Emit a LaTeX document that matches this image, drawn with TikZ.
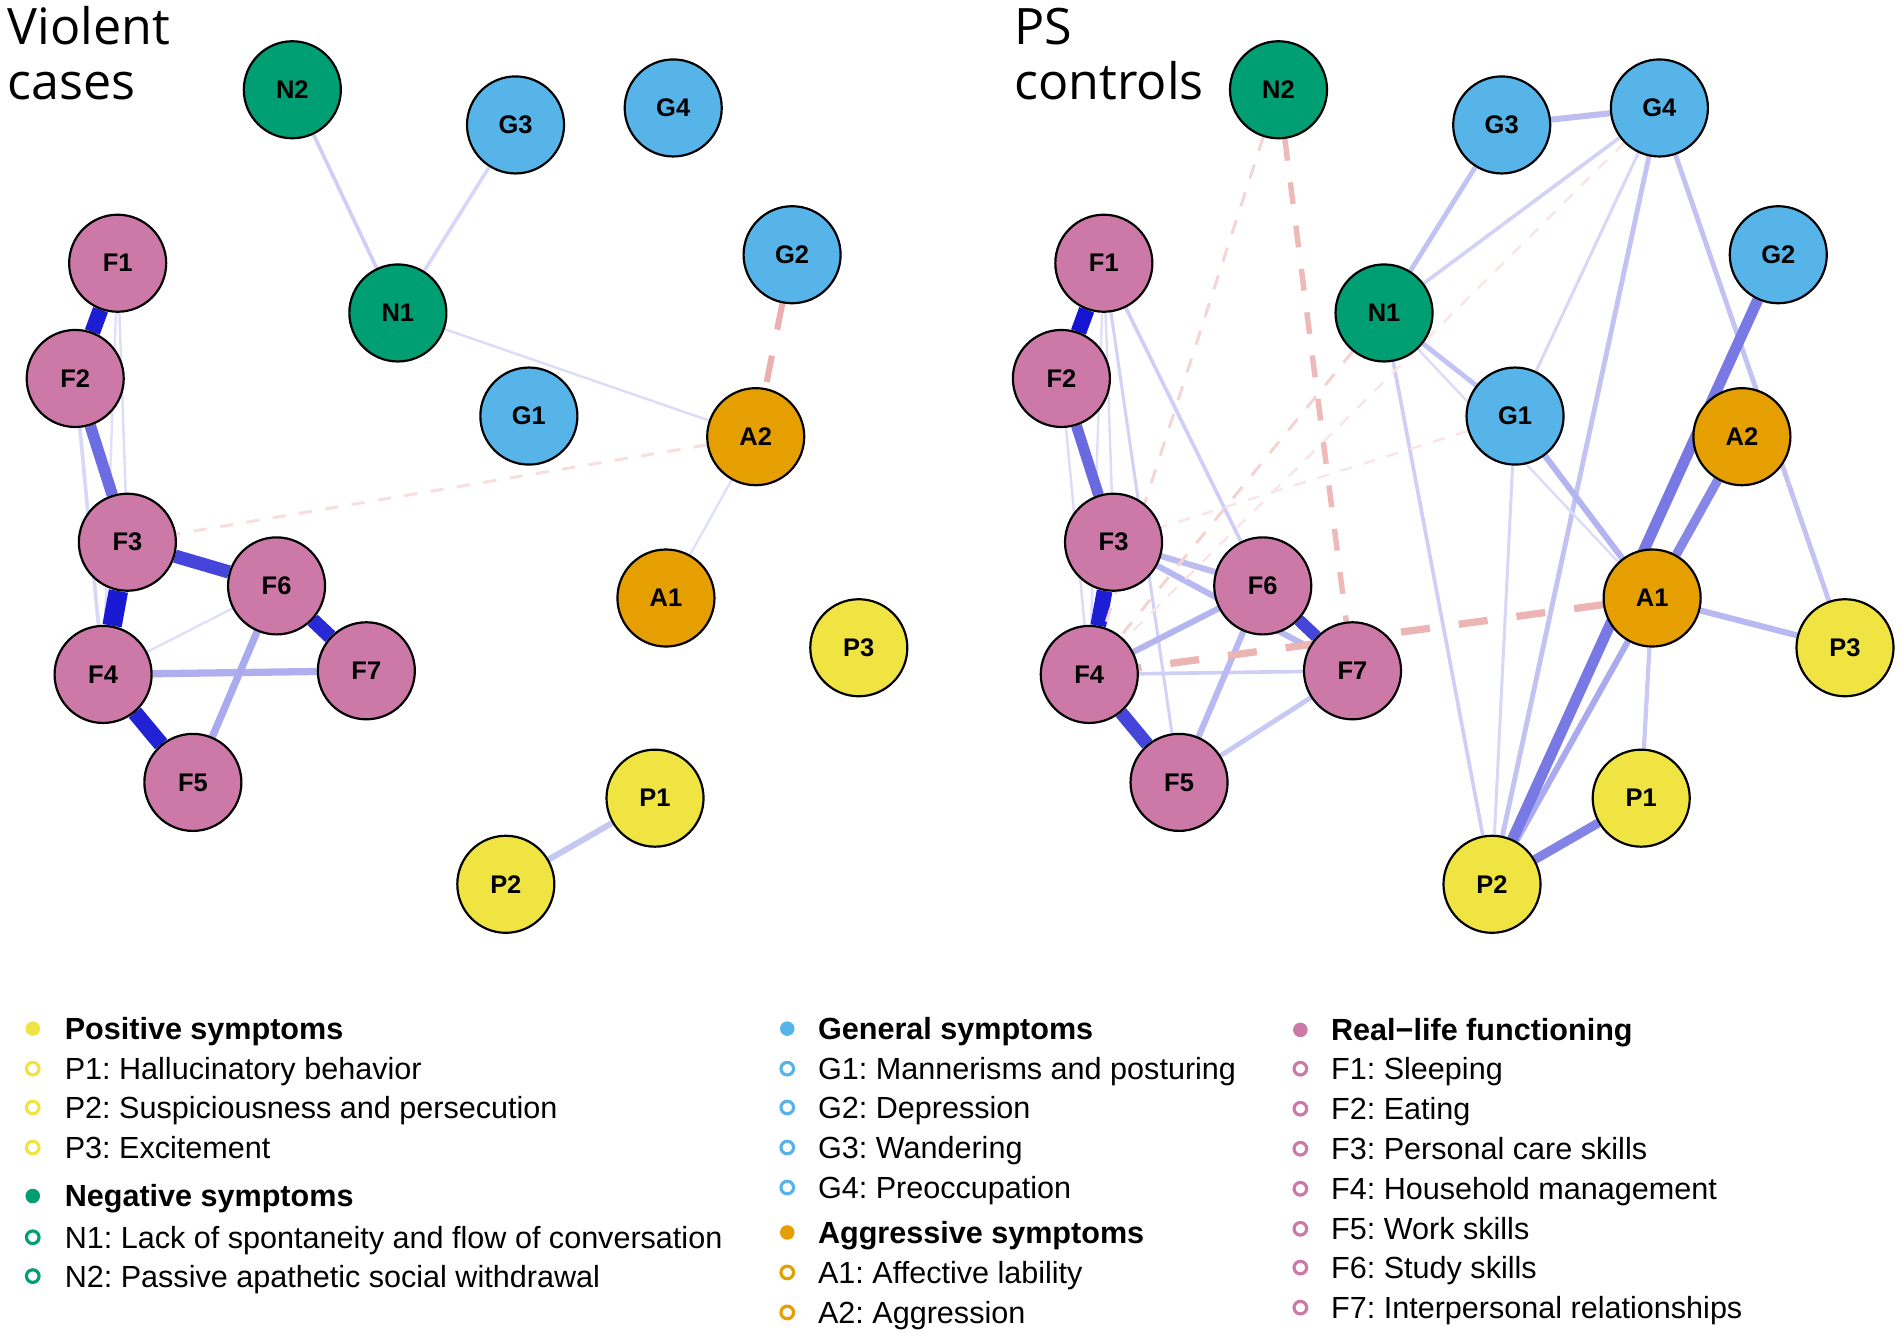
\documentclass[tikz,border=0pt]{standalone}
\usepackage{fontspec}
\setmainfont{Liberation Sans}
\newfontfamily\titlefont{Open Sans}
\frenchspacing
\pgfdeclarelayer{edges}
\pgfsetlayers{edges,main}
\definecolor{cN}{HTML}{009E73}
\definecolor{cG}{HTML}{56B4E9}
\definecolor{cF}{HTML}{CC79A7}
\definecolor{cA}{HTML}{E69F00}
\definecolor{cP}{HTML}{F0E442}
\definecolor{eb}{RGB}{20,20,210}
\definecolor{er}{RGB}{220,110,110}
\begin{document}
\begin{tikzpicture}[x=0.5pt,y=-0.5pt,
  nd/.style={circle,draw=black,line width=0.9pt,minimum size=40pt,inner sep=0pt,
    font=\fontsize{10.5}{10.5}\selectfont\bfseries},
  pe/.style 2 args={draw=eb!#2!white,line width=#1*0.5pt},
  ne/.style n args={3}{draw=er!#2!white,line width=#1*0.5pt,dash pattern=on #3 off #3},
  ttl/.style={anchor=base west,inner sep=0pt,font=\titlefont\fontsize{20.7}{22}\selectfont},
  lg/.style={anchor=base west,inner sep=0pt,font=\fontsize{12.6}{14}\selectfont},
  lgh/.style={lg,font=\fontsize{12.6}{14}\selectfont\bfseries}
]
\useasboundingbox (0,0) rectangle (1568,1102);

% titles
\node[ttl] (t1) at (6,37) {Violent};
\node[ttl] (t2) at (6,82) {cases};
\node[ttl] (t3) at (836,37) {PS};
\node[ttl] (t4) at (836,82) {controls};

% nodes (left panel L, right panel R shifted by 813)
\foreach \n/\x/\y/\c in {N2/241/74/cN, G3/425/103/cG, G4/555/89/cG, G2/653/210/cG,
  F1/97/217/cF, N1/328/258/cN, F2/62/312/cF, G1/436/343/cG, A2/623/360/cA,
  F3/105/447/cF, F6/228/483/cF, A1/549/493/cA, P3/708/534/cP, F4/85/556/cF,
  F7/302/553/cF, F5/159/645/cF, P1/540/658/cP, P2/417/729/cP}{
  \node[nd,fill=\c] (L\n) at (\x,\y) {\n};
  \node[nd,fill=\c] (R\n) at (\x+813,\y) {\n};
}

\begin{pgfonlayer}{edges}
% ---- left panel ----
\draw[pe={2}{13}] (LF4) -- (LF6);
\draw[pe={2}{15}] (LF1) -- (LF3);
\draw[pe={2}{13}] (LF1) -- (LF4);
\draw[pe={3}{17}] (LF2) -- (LF4);
\draw[pe={3}{21}] (LN2) -- (LN1);
\draw[pe={3}{17}] (LG3) -- (LN1);
\draw[pe={2}{15}] (LN1) -- (LA2);
\draw[pe={2}{13}] (LA2) -- (LA1);
\draw[pe={5}{24}] (LP1) -- (LP2);
\draw[pe={6}{34}] (LF4) -- (LF7);
\draw[pe={6}{36}] (LF5) -- (LF6);
\draw[pe={9.5}{62}] (LF2) -- (LF3);
\draw[pe={11}{79}] (LF3) -- (LF6);
\draw[pe={12}{91}] (LF6) -- (LF7);
\draw[pe={13}{94}] (LF4) -- (LF5);
\draw[pe={13}{96}] (LF1) -- (LF2);
\draw[pe={16}{98}] (LF3) -- (LF4);
\draw[ne={5}{55}{11pt}] (LG2) -- (LA2);
\draw[ne={2.5}{22}{5.5pt}] (LA2) -- (LF3);
% ---- right panel ----
\draw[pe={2}{15}] (RF1) -- (RF3);
\draw[pe={2}{13}] (RF1) -- (RF4);
\draw[pe={2}{15}] (RF2) -- (RF4);
\draw[pe={2.5}{19}] (RF1) -- (RF5);
\draw[pe={3}{21}] (RF1) -- (RF6);
\draw[pe={3}{21}] (RF4) -- (RF7);
\draw[pe={4}{23}] (RF5) -- (RF7);
\draw[pe={5}{28}] (RF3) -- (RF6);
\draw[pe={5}{30}] (RF3) -- (RF7);
\draw[pe={5}{32}] (RF4) -- (RF6);
\draw[pe={5}{30}] (RF5) -- (RF6);
\draw[pe={9}{64}] (RF2) -- (RF3);
\draw[pe={10}{79}] (RF6) -- (RF7);
\draw[pe={11}{79}] (RF4) -- (RF5);
\draw[pe={13}{96}] (RF3) -- (RF4);
\draw[pe={13}{100}] (RF1) -- (RF2);
\draw[pe={2.5}{17}] (RG4) -- (RG1);
\draw[pe={3}{19}] (RG4) -- (RN1);
\draw[pe={4}{26}] (RG3) -- (RN1);
\draw[pe={5}{28}] (RG3) -- (RG4);
\draw[pe={4}{26}] (RG4) -- (RP2);
\draw[pe={4}{26}] (RG4) -- (RP3);
\draw[pe={2}{15}] (RN1) -- (RA1);
\draw[pe={4}{26}] (RN1) -- (RG1);
\draw[pe={3}{21}] (RN1) -- (RP2);
\draw[pe={2.5}{17}] (RG1) -- (RP2);
\draw[pe={5}{32}] (RG1) -- (RA1);
\draw[pe={3.5}{23}] (RA1) -- (RP1);
\draw[pe={5}{30}] (RA1) -- (RP3);
\draw[pe={5}{36}] (RA1) -- (RP2);
\draw[pe={7.5}{51}] (RA2) -- (RA1);
\draw[pe={7.5}{53}] (RP1) -- (RP2);
\draw[pe={9}{57}] (RG2) -- (RP2);
\draw[ne={2}{18}{5pt}] (RG4) -- (RF4);
\draw[ne={2}{18}{5pt}] (RG1) -- (RF3);
\draw[ne={2.5}{28}{6pt}] (RN2) -- (RF4);
\draw[ne={2.5}{30}{6pt}] (RN1) -- (RF4);
\draw[ne={4.5}{48}{9pt}] (RN2) -- (RF7);
\draw[ne={6}{52}{12pt}] (RA1) -- (RF4);
\end{pgfonlayer}

% legend
\foreach \i/\bx/\tx/\y/\c/\h/\t in {
  1/27/53/848/cP/1/Positive symptoms,
  2/27/53/881/cP/0/P1: Hallucinatory behavior,
  3/27/53/913/cP/0/P2: Suspiciousness and persecution,
  4/27/53/946/cP/0/P3: Excitement,
  5/27/53/986/cN/1/Negative symptoms,
  6/27/53/1020/cN/0/N1: Lack of spontaneity and flow of conversation,
  7/27/53/1052/cN/0/N2: Passive apathetic social withdrawal,
  8/649/674/848/cG/1/General symptoms,
  9/649/674/881/cG/0/G1: Mannerisms and posturing,
  10/649/674/913/cG/0/G2: Depression,
  11/649/674/946/cG/0/G3: Wandering,
  12/649/674/979/cG/0/G4: Preoccupation,
  13/649/674/1016/cA/1/Aggressive symptoms,
  14/649/674/1049/cA/0/A1: Affective lability,
  15/649/674/1082/cA/0/A2: Aggression,
  16/1072/1097/849/cF/1/Real−life functioning,
  17/1072/1097/881/cF/0/F1: Sleeping,
  18/1072/1097/914/cF/0/F2: Eating,
  19/1072/1097/947/cF/0/F3: Personal care skills,
  20/1072/1097/980/cF/0/F4: Household management,
  21/1072/1097/1013/cF/0/F5: Work skills,
  22/1072/1097/1045/cF/0/F6: Study skills,
  23/1072/1097/1078/cF/0/F7: Interpersonal relationships}{
  \ifnum\h=1
    \fill[\c] (\bx,\y) circle (3pt);
    \node[lgh] (lg\i) at (\tx,\y+9) {\t};
  \else
    \draw[\c,line width=1.3pt] (\bx,\y) circle (2.6pt);
    \node[lg] (lg\i) at (\tx,\y+9) {\t};
  \fi
}
\end{tikzpicture}
\end{document}
